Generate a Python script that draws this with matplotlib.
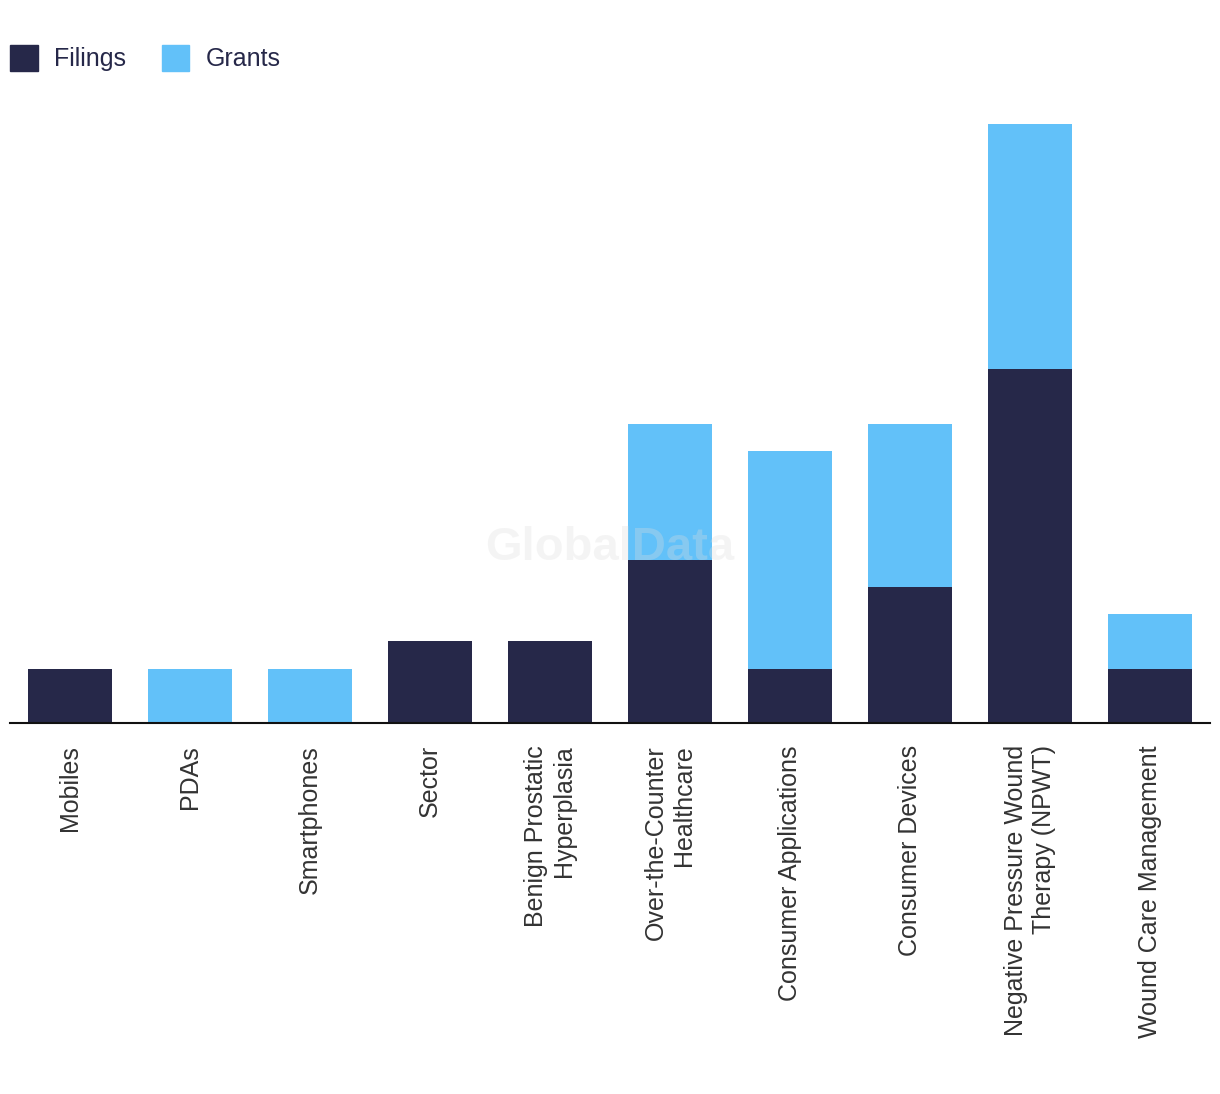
import numpy as np
import matplotlib
matplotlib.use("Agg")
import matplotlib.pyplot as plt
from matplotlib.patches import Patch

# chart data
categories = ["Mobiles", "PDAs", "Smartphones", "Sector",
              "Benign Prostatic\nHyperplasia", "Over-the-Counter\nHealthcare",
              "Consumer Applications", "Consumer Devices",
              "Negative Pressure Wound\nTherapy (NPWT)", "Wound Care Management"]
filings = [2, 0, 0, 3, 3, 6, 2, 5, 13, 2]
grants = [0, 2, 2, 0, 0, 5, 8, 6, 9, 2]

NAVY = "#262849"
BLUE = "#62C1F9"

plt.rcParams['font.family'] = ['Liberation Sans', 'DejaVu Sans']

fig = plt.figure(figsize=(12.2, 10.94), dpi=100)
ax = fig.add_axes([10 / 1220, 1 - 723 / 1094, 1200 / 1220, (723 - 124) / 1094])

x = np.arange(len(categories))
ax.bar(x, filings, width=0.7, color=NAVY, label="Filings")
ax.bar(x, grants, width=0.7, bottom=filings, color=BLUE, label="Grants")

ax.set_xlim(-0.5, len(categories) - 0.5)
ax.set_ylim(0, max(f + g for f, g in zip(filings, grants)))

for s in ["top", "right", "left"]:
    ax.spines[s].set_visible(False)
ax.spines["bottom"].set_color("#111111")
ax.spines["bottom"].set_linewidth(1.5)
ax.set_yticks([])
ax.set_xticks(x)
ax.set_xticklabels(categories, rotation=90, va="top", ha="center",
                   multialignment="right", fontsize=18, color="#333333")
ax.tick_params(axis="x", length=0, pad=16)

# watermark
fig.text(610 / 1220, 1 - 548 / 1094, "GlobalData", fontsize=34, fontweight="bold",
         color="#dddddd", alpha=0.3, ha="center", va="center")

handles = [Patch(color=NAVY, label="Filings"), Patch(color=BLUE, label="Grants")]
fig.legend(handles=handles, loc="upper left", bbox_to_anchor=(10 / 1220, 1 - 45 / 1094),
           ncol=2, frameon=False, fontsize=18, handlelength=1.1, handleheight=1.2,
           handletextpad=0.68, columnspacing=1.4, labelcolor=NAVY,
           borderaxespad=0, borderpad=0)

fig.savefig("out.png", dpi=100)
